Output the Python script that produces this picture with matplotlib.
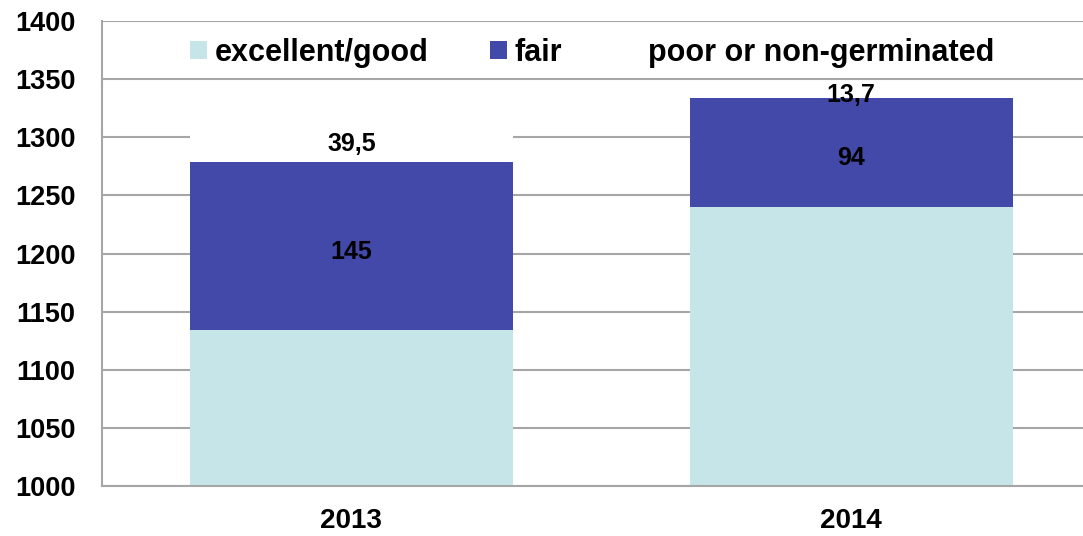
import matplotlib
matplotlib.use('Agg')
import matplotlib.pyplot as plt
import numpy as np

plt.rcParams['font.family'] = ['Liberation Sans', 'DejaVu Sans']
plt.rcParams['font.weight'] = 'bold'

years = ['2013', '2014']
good = [1134, 1240]
fair = [145, 94]
poor = [39.5, 13.7]
fair_labels = ['145', '94']
poor_labels = ['39,5', '13,7']

fig = plt.figure(figsize=(10.83, 5.36), dpi=100)
ax = fig.add_axes([0.0942, 0.0933, 0.9058, 0.8675])

x = np.arange(len(years))
w = 0.646
good_c = '#c5e5e8'
fair_c = '#4349a8'

ax.bar(x, good, w, color=good_c, label='excellent/good', zorder=2)
ax.bar(x, fair, w, bottom=good, color=fair_c, label='fair', zorder=2)
bot3 = np.array(good) + np.array(fair)
ax.bar(x, poor, w, bottom=bot3, color='white', label='poor or non-germinated', zorder=2)

# labels sit a bit below segment centre in the original
for i in range(len(years)):
    ax.annotate(fair_labels[i], (x[i], good[i] + fair[i] / 2), xytext=(0, -4),
                textcoords='offset points', ha='center', va='center',
                fontsize=18, fontweight='bold', zorder=3)
    ax.annotate(poor_labels[i], (x[i], bot3[i] + poor[i] / 2), xytext=(0, -4),
                textcoords='offset points', ha='center', va='center',
                fontsize=18, fontweight='bold', zorder=3)

ax.set_ylim(1000, 1400)
ax.set_xlim(-0.499, 1.464)
ax.set_yticks(np.arange(1000, 1401, 50))
ax.set_xticks(x)
ax.set_xticklabels(years)
ax.tick_params(axis='y', length=0, labelsize=19.5, pad=19)
ax.tick_params(axis='x', length=0, labelsize=20, pad=16)
ax.yaxis.grid(True, color='#a6a6a6', linewidth=1.5, zorder=0)
ax.set_axisbelow(True)
for s in ['top', 'right']:
    ax.spines[s].set_visible(False)
for s in ['left', 'bottom']:
    ax.spines[s].set_color('#a6a6a6')
    ax.spines[s].set_linewidth(1.5)

ax.legend(loc='center', bbox_to_anchor=(0.4995, 0.932), ncol=3, frameon=False,
          fontsize=22, handlelength=0.56, handleheight=0.56, handletextpad=0.25,
          columnspacing=2.0)

plt.savefig('out.png', dpi=100)
